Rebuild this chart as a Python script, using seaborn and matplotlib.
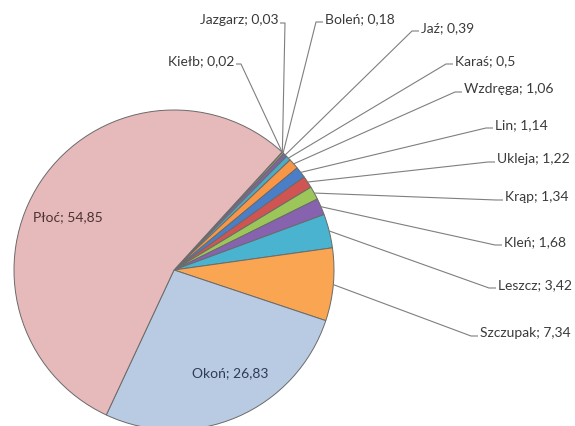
import numpy as np
import pandas as pd
import matplotlib
matplotlib.use("Agg")
import matplotlib.pyplot as plt
import seaborn as sns

# ---- data (clockwise order, starting at upper right) ----
species = ["Kiełb", "Jazgarz", "Boleń", "Jaź", "Karaś", "Wzdręga", "Lin",
           "Ukleja", "Krąp", "Kleń", "Leszcz", "Szczupak", "Okoń", "Płoć"]
shares = [0.02, 0.03, 0.18, 0.39, 0.5, 1.06, 1.14,
          1.22, 1.34, 1.68, 3.42, 7.34, 26.83, 54.85]

# ---- style ----
slice_colors = ["#4F81BD", "#C0504D", "#9BBB59", "#8064A2", "#4BACC6", "#F79646",
                "#4A7FC8", "#CF5452", "#9CC55A", "#8762AE", "#4AB3D0", "#F9A552",
                "#B9CBE3", "#E6B9BA"]
# label text positions in pixels (x, y from top, alignment); None = inside label
label_layout = {
    "Kiełb": (234, 61, "right"),
    "Jazgarz": (278, 20, "right"),
    "Boleń": (325, 19, "left"),
    "Jaź": (421, 28, "left"),
    "Karaś": (455, 61, "left"),
    "Wzdręga": (464, 89, "left"),
    "Lin": (495, 125, "left"),
    "Ukleja": (497, 159, "left"),
    "Krąp": (505, 197, "left"),
    "Kleń": (504, 242, "left"),
    "Leszcz": (498, 285, "left"),
    "Szczupak": (480, 333, "left"),
    "Okoń": (192, 373, "left"),
    "Płoć": (33, 217, "left"),
}
inside_colors = {"Okoń": "#2E3B55", "Płoć": "#4A3333"}

W, H = 575, 427
sns.set_style("white")
plt.rcParams["font.family"] = ["Lato", "DejaVu Sans"]

df = pd.DataFrame({"species": species, "share": shares})
palette = sns.color_palette(slice_colors)

fig = plt.figure(figsize=(W / 100, H / 100), dpi=100)
ax = fig.add_axes([0, 0, 1, 1])
cx, cy, R = 174, H - 271, 160
wedges, _ = ax.pie(df["share"], colors=palette, startangle=47.5, counterclock=False,
                   center=(cx, cy), radius=R,
                   wedgeprops=dict(edgecolor="#6A6A6A", linewidth=0.7))
ax.set_xlim(0, W)
ax.set_ylim(0, H)
ax.set_aspect("equal")
ax.axis("off")

def fmt(v):
    return ("%g" % v).replace(".", ",")

for w, name, val in zip(wedges, df["species"], df["share"]):
    x, ytop, ha = label_layout[name]
    y = H - ytop
    text = f"{name}; {fmt(val)}"
    if name in inside_colors:
        ax.text(x, y, text, ha=ha, va="center", fontsize=10, color=inside_colors[name])
        continue
    ax.text(x, y, text, ha=ha, va="center", fontsize=10, color="#3A3A3A")
    ang = np.deg2rad((w.theta1 + w.theta2) / 2)
    ax_, ay_ = cx + R * np.cos(ang), cy + R * np.sin(ang)
    ys = y - 4
    if ha == "left":
        xs = [ax_, x - 9, x - 2]
    else:
        xs = [ax_, x + 7, x + 2]
    ax.plot(xs, [ay_, ys, ys], color="#7F7F7F", lw=0.8, solid_capstyle="butt")

fig.savefig("out.png", dpi=100, facecolor="white")
